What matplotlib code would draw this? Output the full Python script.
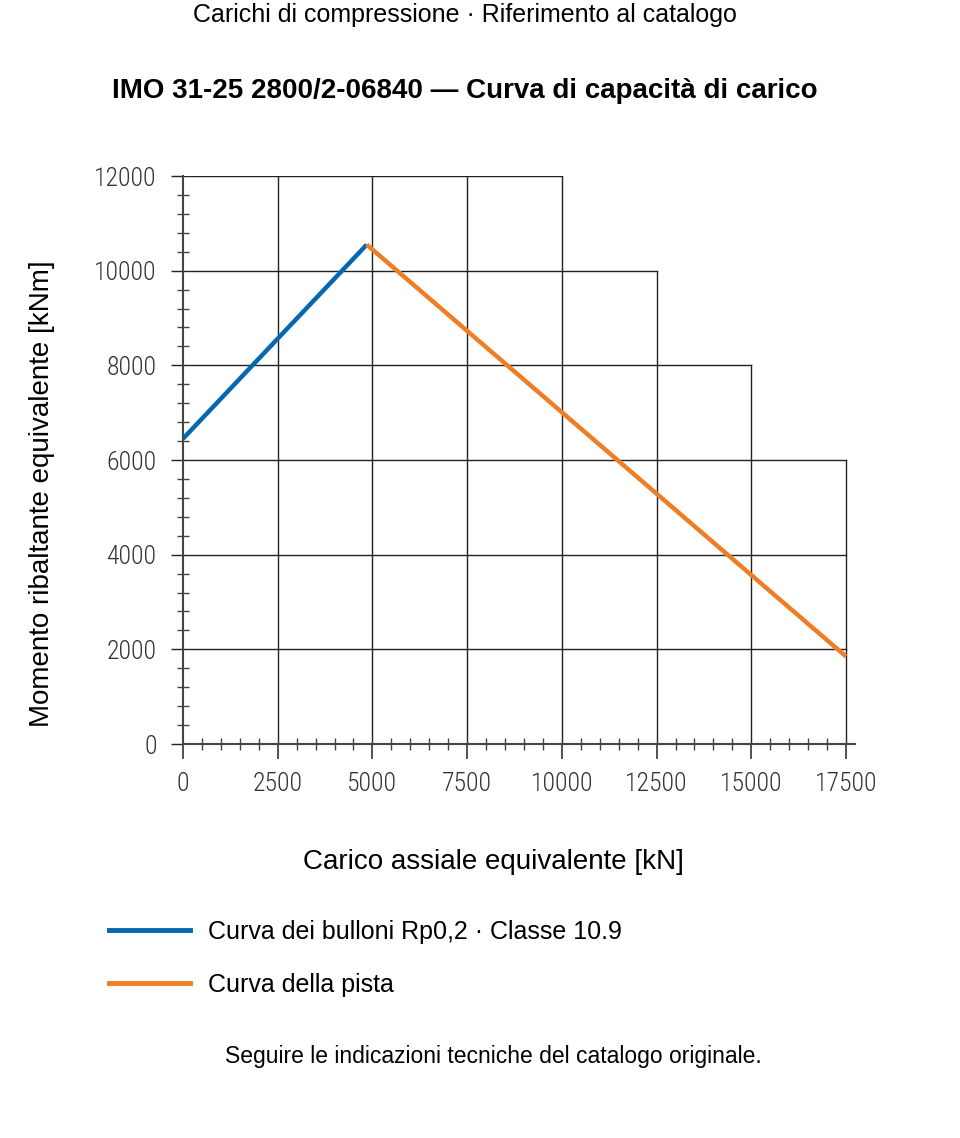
import matplotlib.pyplot as plt
from matplotlib.lines import Line2D
from matplotlib.ticker import MultipleLocator

# data
bolt_load = [0, 4850]
bolt_moment = [6450, 10550]
race_load = [4850, 17500]
race_moment = [10550, 1850]

# staircase grid: horizontal lines (level, right end) and vertical lines (position, top end)
hgrid_levels = [12000, 10000, 8000, 6000, 4000, 2000]
hgrid_ends = [10000, 12500, 15000, 17500, 17500, 17500]
vgrid_pos = [2500, 5000, 7500, 10000, 12500, 15000, 17500]
vgrid_tops = [12000, 12000, 12000, 12000, 10000, 8000, 6000]

x_ticks = [0, 2500, 5000, 7500, 10000, 12500, 15000, 17500]
y_ticks = [0, 2000, 4000, 6000, 8000, 10000, 12000]

BLUE = '#0467b0'
ORANGE = '#ee7d26'
GRID = '#222222'
AXIS = '#444444'

plt.rcParams['font.family'] = ['Liberation Sans', 'DejaVu Sans']
tick_font = ['Roboto Condensed', 'DejaVu Sans']

W, H = 960, 1138
fig = plt.figure(figsize=(W / 100, H / 100), dpi=100)

left, right = 183 / W, 855 / W
bottom, top = 1 - 744 / H, 1 - 176 / H
ax = fig.add_axes([left, bottom, right - left, top - bottom])

xmax = 17500 * (855 - 183) / (846 - 183)
ax.set_xlim(0, xmax)
ax.set_ylim(0, 12000)

for lvl, end in zip(hgrid_levels, hgrid_ends):
    ax.plot([0, end], [lvl, lvl], color=GRID, lw=1.0, zorder=1)
for pos, tp in zip(vgrid_pos, vgrid_tops):
    ax.plot([pos, pos], [0, tp], color=GRID, lw=1.0, zorder=1)

ax.plot(bolt_load, bolt_moment, color=BLUE, lw=3.2, solid_capstyle='butt', zorder=3)
ax.plot(race_load, race_moment, color=ORANGE, lw=3.2, solid_capstyle='butt', zorder=3)

for side in ['top', 'right']:
    ax.spines[side].set_visible(False)
for side in ['left', 'bottom']:
    ax.spines[side].set_color(AXIS)
    ax.spines[side].set_linewidth(1.5)
    ax.spines[side].set_zorder(2)

ax.set_xticks(x_ticks)
ax.set_yticks(y_ticks)
ax.xaxis.set_minor_locator(MultipleLocator(500))
ax.yaxis.set_minor_locator(MultipleLocator(400))
ax.tick_params(axis='x', which='major', direction='out', length=11, width=1.3,
               color=AXIS, pad=9, labelsize=18.5, labelcolor='#333333')
ax.tick_params(axis='y', which='major', direction='out', length=9, width=1.0,
               color=GRID, pad=10, labelsize=18.5, labelcolor='#333333')
ax.tick_params(which='minor', direction='inout', length=8.5, width=1.0, color=AXIS)
for lab in ax.get_xticklabels() + ax.get_yticklabels():
    lab.set_family(tick_font)
    lab.set_stretch('condensed')
    lab.set_weight('light')

ax.set_facecolor('none')

fig.text(465 / W, 1 - 15 / H, 'Carichi di compressione · Riferimento al catalogo',
         ha='center', va='center', fontsize=18)
fig.text(465 / W, 1 - 91 / H, 'IMO 31-25 2800/2-06840 — Curva di capacità di carico',
         ha='center', va='center', fontsize=20, fontweight='bold')
fig.text(42 / W, 1 - 494 / H, 'Momento ribaltante equivalente [kNm]',
         ha='center', va='center', rotation=90, fontsize=20)
fig.text(493 / W, 1 - 862 / H, 'Carico assiale equivalente [kN]',
         ha='center', va='center', fontsize=20)
fig.text(493 / W, 1 - 1056 / H, 'Seguire le indicazioni tecniche del catalogo originale.',
         ha='center', va='center', fontsize=16.5)

handles = [Line2D([], [], color=BLUE, lw=3.5),
           Line2D([], [], color=ORANGE, lw=3.5)]
fig.legend(handles, ['Curva dei bulloni Rp0,2 · Classe 10.9', 'Curva della pista'],
           loc='upper left', bbox_to_anchor=(99 / W, 1 - 910 / H),
           frameon=False, fontsize=18, handlelength=3.24, handletextpad=0.72,
           labelspacing=1.16, borderaxespad=0)

fig.savefig('out.png', dpi=100)
